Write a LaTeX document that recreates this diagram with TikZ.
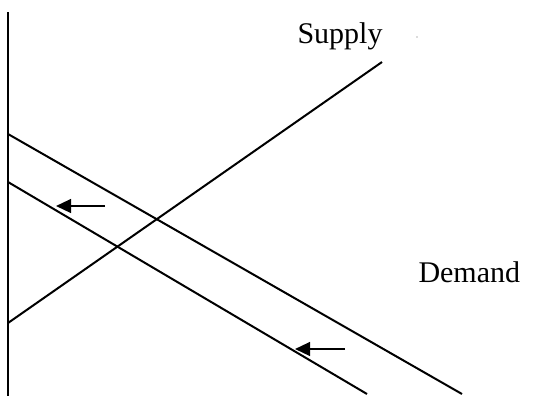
\documentclass[tikz,border=0pt]{standalone}
\usepackage{fontspec}
\setmainfont{Liberation Serif}
\usetikzlibrary{arrows.meta}
\begin{document}
\begin{tikzpicture}[x=0.4pt,y=-0.4pt,
  curve/.style={line width=0.8pt},
  shift arrow/.style={line width=0.8pt,-{Triangle[length=6pt,width=5.5pt]}},
  lbl/.style={anchor=base west,inner sep=0pt,font=\fontsize{12}{14}\selectfont}]
\useasboundingbox (0,0) rectangle (534,396);
% axis
\coordinate (axtop) at (8,12);
\coordinate (axbot) at (8,396);
\draw[curve] (axtop) -- (axbot);
% supply
\coordinate (s1) at (8,323);
\coordinate (s2) at (382,62);
\draw[curve] (s1) -- (s2);
% demand curves
\coordinate (d1a) at (8,134);
\coordinate (d1b) at (462,394);
\draw[curve] (d1a) -- (d1b);
\coordinate (d2a) at (8,182);
\coordinate (d2b) at (367,394);
\draw[curve] (d2a) -- (d2b);
% arrows
\coordinate (a1t) at (105,206);
\coordinate (a1h) at (56,206);
\draw[shift arrow] (a1t) -- (a1h);
\coordinate (a2t) at (345,349);
\coordinate (a2h) at (295,349);
\draw[shift arrow] (a2t) -- (a2h);
% labels
\node[lbl] (supply) at (297,43) {Supply};
\node[lbl] (demand) at (418,282) {Demand};
\fill[black!60] (417,37) circle (0.6);
\end{tikzpicture}
\end{document}
